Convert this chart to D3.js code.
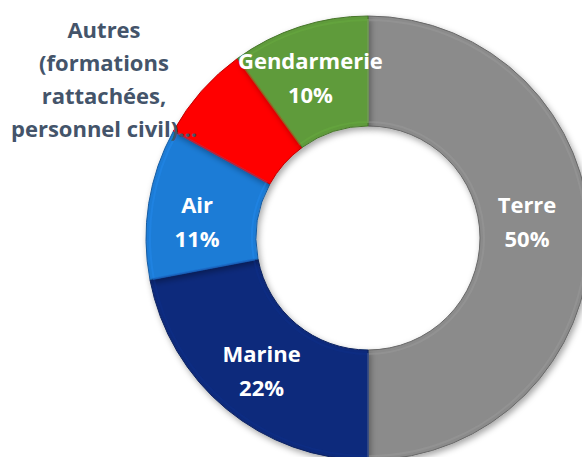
<!DOCTYPE html>
<html>
<head>
<meta charset="utf-8">
<script src="https://cdn.jsdelivr.net/npm/d3@7"></script>
<style>
  body { margin: 0; background: #fff; }
  svg text { font-family: "Open Sans", Lato, sans-serif; font-weight: bold; }
</style>
</head>
<body>
<script>
// effectifs par armée (en %)
let categories = ['Terre', 'Marine', 'Air', 'Autres (formations rattachées, personnel civil)…', 'Gendarmerie'];
let values = [50, 22, 11, 7, 10];
let colors = ['#8b8b8b', '#0b2a7c', '#1f7bd6', '#ff0000', '#5f9b3a'];

let width = 582;
let height = 457;
let cx = 368, cy = 238;
let outerR = 222, innerR = 112;

let svg = d3.select('body')
  .append('svg')
  .attr('width', width)
  .attr('height', height);

let defs = svg.append('defs');
let shadow = defs.append('filter').attr('id', 'shadow')
  .attr('x', '-10%').attr('y', '-10%').attr('width', '120%').attr('height', '120%');
shadow.append('feDropShadow')
  .attr('dx', 2).attr('dy', 3).attr('stdDeviation', 3)
  .attr('flood-color', '#000').attr('flood-opacity', 0.35);

let data = categories.map((c, i) => ({ cat: c, value: values[i], color: colors[i] }));

let pie = d3.pie().sort(null).value(d => d.value);
let arcs = pie(data);

let arc = d3.arc().innerRadius(innerR).outerRadius(outerR);
let bevel = d3.arc().innerRadius(innerR + 4).outerRadius(outerR - 4);

let g = svg.append('g').attr('transform', `translate(${cx},${cy})`);

g.selectAll('path.slice')
  .data(arcs)
  .enter()
  .append('path')
  .attr('class', 'slice')
  .attr('d', arc)
  .attr('fill', d => d.data.color)
  .attr('stroke', d => d3.color(d.data.color).darker(0.8))
  .attr('stroke-width', 1)
  .attr('filter', 'url(#shadow)');

// léger effet de biseau
g.selectAll('path.bevel')
  .data(arcs)
  .enter()
  .append('path')
  .attr('class', 'bevel')
  .attr('d', bevel)
  .attr('fill', 'none')
  .attr('stroke', d => d3.color(d.data.color).brighter(0.4))
  .attr('stroke-opacity', 0.35)
  .attr('stroke-width', 2);

let labelArc = d3.arc().innerRadius(167).outerRadius(167);
// petits décalages des étiquettes [dx, dy]
let offsets = { 'Terre': [-8, -16], 'Marine': [0, 4], 'Air': [-6, 10], 'Gendarmerie': [-6, -1] };

arcs.filter(d => d.data.cat !== categories[3]).forEach(d => {
  let [x, y] = labelArc.centroid(d);
  let [ox, oy] = offsets[d.data.cat];
  let t = g.append('text')
    .attr('text-anchor', 'middle')
    .attr('fill', '#fff')
    .attr('font-size', 22);
  t.append('tspan').attr('x', x + ox).attr('y', y + oy - 9).text(d.data.cat);
  t.append('tspan').attr('x', x + ox).attr('y', y + oy + 25).text(d.data.value + '%');
});

// étiquette extérieure pour "Autres"
let autresLines = ['Autres', '(formations', 'rattachées,', 'personnel civil)…'];
let autres = svg.append('text')
  .attr('text-anchor', 'middle')
  .attr('fill', '#44546a')
  .attr('font-size', 22)
  .attr('x', 104)
  .attr('y', 38);
autresLines.forEach((l, i) => {
  autres.append('tspan').attr('x', 104).attr('dy', i === 0 ? 0 : 33).text(l);
});
</script>
</body>
</html>
